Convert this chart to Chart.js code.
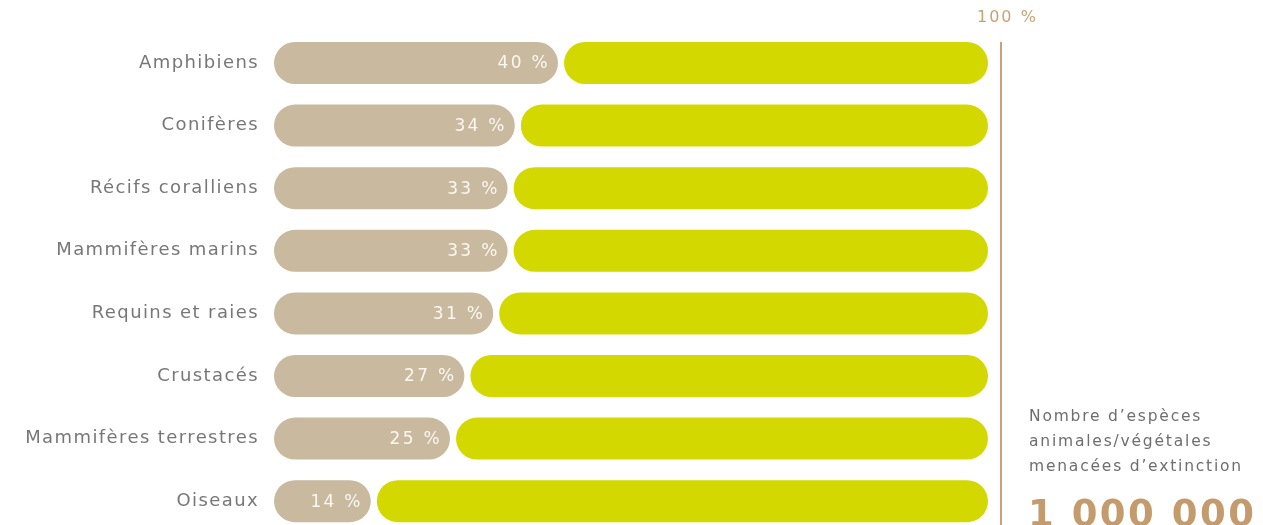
<!DOCTYPE html>
<html lang="fr">
<head>
<meta charset="utf-8">
<script src="https://cdn.jsdelivr.net/npm/chart.js@4.4.1/dist/chart.umd.min.js"></script>
<style>
  html, body { margin: 0; padding: 0; background: #ffffff; }
  #wrap { position: relative; width: 1263px; height: 525px; }
</style>
</head>
<body>
<div id="wrap"><canvas id="c"></canvas></div>
<script>
const categories = ["Amphibiens", "Conifères", "Récifs coralliens", "Mammifères marins", "Requins et raies", "Crustacés", "Mammifères terrestres", "Oiseaux"];
const threatenedShare = [40, 34, 33, 33, 31, 27, 25, 14];
const totalShare = 100;
const maxLabel = "100 %";
const sideNoteLines = ["Nombre d\u2019espèces", "animales/végétales", "menacées d\u2019extinction"];
const sideNumber = "1 000 000";

const TAN = "#c9b99f";
const GREEN = "#d3d900";
const LINE = "#c9a27a";
const R = { topLeft: 21, topRight: 21, bottomLeft: 21, bottomRight: 21 };

const spacing = {
  id: "spacing",
  beforeDraw(chart) { chart.ctx.letterSpacing = "1.4px"; },
  afterDraw(chart) { chart.ctx.letterSpacing = "0px"; }
};

const overlay = {
  id: "overlay",
  afterDatasetsDraw(chart) {
    const ctx = chart.ctx;
    const xs = chart.scales.x;
    const ys = chart.scales.y;
    const meta = chart.getDatasetMeta(0);
    ctx.save();
    // value labels inside tan bars
    ctx.letterSpacing = "2.3px";
    ctx.font = '17px "DejaVu Sans"';
    ctx.fillStyle = "#fbf8f2";
    ctx.textAlign = "right";
    ctx.textBaseline = "middle";
    meta.data.forEach((bar, i) => {
      ctx.fillText(threatenedShare[i] + " %", bar.x - 10, bar.y + 1);
    });
    // vertical reference line
    const lx = xs.getPixelForValue(totalShare) + 9;
    const top = ys.getPixelForValue(0) - 21;
    ctx.strokeStyle = LINE;
    ctx.lineWidth = 2;
    ctx.beginPath();
    ctx.moveTo(lx, top);
    ctx.lineTo(lx, chart.height);
    ctx.stroke();
    // 100 % label
    ctx.letterSpacing = "2px";
    ctx.font = '16px "DejaVu Sans"';
    ctx.fillStyle = "#c9a27a";
    ctx.textAlign = "left";
    ctx.textBaseline = "middle";
    ctx.fillText(maxLabel, lx - 24, 18);
    // side note
    ctx.letterSpacing = "1.8px";
    ctx.font = '15.5px "DejaVu Sans"';
    ctx.fillStyle = "#6e6e6e";
    sideNoteLines.forEach((t, i) => ctx.fillText(t, lx + 28, 417 + i * 25));
    ctx.font = 'bold 37px "DejaVu Sans"';
    ctx.fillStyle = "#c39b6c";
    ctx.textBaseline = "alphabetic";
    ctx.letterSpacing = "2.5px";
    ctx.fillText(sideNumber, lx + 27, 526);
    ctx.restore();
  }
};

new Chart(document.getElementById("c"), {
  type: "bar",
  data: {
    labels: categories,
    datasets: [
      {
        data: threatenedShare,
        backgroundColor: TAN,
        borderWidth: 0,
        borderSkipped: false,
        borderRadius: R,
        barThickness: 46,
        inflateAmount: -2,
        clip: false
      },
      {
        data: threatenedShare.map(v => totalShare - v),
        backgroundColor: GREEN,
        borderWidth: 0,
        borderSkipped: false,
        borderRadius: R,
        barThickness: 50,
        inflateAmount: -4,
        clip: false
      }
    ]
  },
  options: {
    indexAxis: "y",
    responsive: true,
    maintainAspectRatio: false,
    animation: false,
    events: [],
    layout: { padding: { top: 63, bottom: 22, left: 0, right: 271 } },
    plugins: { legend: { display: false }, tooltip: { enabled: false } },
    scales: {
      x: {
        stacked: true,
        min: 0,
        max: totalShare,
        display: false
      },
      y: {
        stacked: true,
        offset: false,
        grid: { display: false, drawTicks: false },
        border: { display: false },
        ticks: {
          color: "#777777",
          font: { family: "DejaVu Sans", size: 18 },
          padding: 13
        },
        afterFit(scale) { scale.width = 272; }
      }
    }
  },
  plugins: [spacing, overlay]
});
</script>
</body>
</html>
